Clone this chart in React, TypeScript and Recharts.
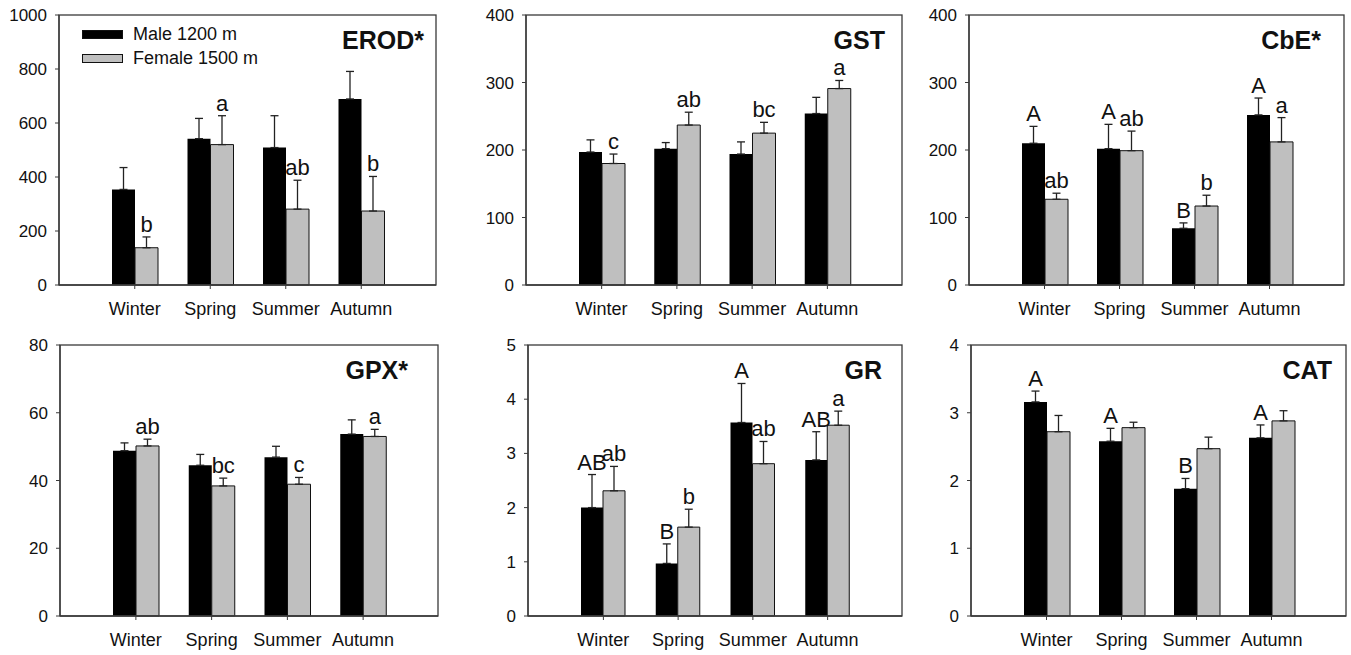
import { Bar, BarChart, ErrorBar, LabelList, Legend, XAxis, YAxis } from "recharts";

const seasons = ["Winter", "Spring", "Summer", "Autumn"];

// EROD*
const erodMale = [354, 542, 509, 689];
const erodMaleSe = [81, 75, 118, 102];
const erodFemale = [138, 520, 281, 274];
const erodFemaleSe = [40, 107, 107, 128];
const erodMaleLetters = ["", "", "", ""];
const erodFemaleLetters = ["b", "a", "ab", "b"];
const erodTicks = [0, 200, 400, 600, 800, 1000];

// GST
const gstMale = [197, 202, 194, 254];
const gstMaleSe = [18, 9, 18, 24];
const gstFemale = [180, 237, 225, 291];
const gstFemaleSe = [14, 19, 16, 12];
const gstMaleLetters = ["", "", "", ""];
const gstFemaleLetters = ["c", "ab", "bc", "a"];
const gstTicks = [0, 100, 200, 300, 400];

// CbE*
const cbeMale = [210, 202, 84, 252];
const cbeMaleSe = [25, 36, 8, 25];
const cbeFemale = [127, 199, 117, 212];
const cbeFemaleSe = [9, 29, 16, 36];
const cbeMaleLetters = ["A", "A", "B", "A"];
const cbeFemaleLetters = ["ab", "ab", "b", "a"];
const cbeTicks = [0, 100, 200, 300, 400];

// GPX*
const gpxMale = [48.8, 44.5, 46.9, 53.7];
const gpxMaleSe = [2.3, 3.2, 3.2, 4.2];
const gpxFemale = [50.2, 38.4, 38.9, 53.0];
const gpxFemaleSe = [2.0, 2.3, 2.0, 2.1];
const gpxMaleLetters = ["", "", "", ""];
const gpxFemaleLetters = ["ab", "bc", "c", "a"];
const gpxTicks = [0, 20, 40, 60, 80];

// GR
const grMale = [2.0, 0.97, 3.57, 2.88];
const grMaleSe = [0.61, 0.36, 0.72, 0.52];
const grFemale = [2.31, 1.64, 2.81, 3.52];
const grFemaleSe = [0.45, 0.33, 0.41, 0.26];
const grMaleLetters = ["AB", "B", "A", "AB"];
const grFemaleLetters = ["ab", "b", "ab", "a"];
const grTicks = [0, 1, 2, 3, 4, 5];

// CAT
const catMale = [3.16, 2.58, 1.88, 2.63];
const catMaleSe = [0.16, 0.19, 0.15, 0.19];
const catFemale = [2.72, 2.78, 2.47, 2.88];
const catFemaleSe = [0.24, 0.08, 0.17, 0.15];
const catMaleLetters = ["A", "A", "B", "A"];
const catFemaleLetters = ["", "", "", ""];
const catTicks = [0, 1, 2, 3, 4];

const MALE = "Male 1200 m";
const FEMALE = "Female 1500 m";
const AXIS = "#3a3a3a";
const INK = "#111";
const GREY = "#bfbfbf";
const Y_AXIS_W = 56;
const TOP_PAD = 12;
const X_AXIS_H = 35;
const RIGHT_PAD = 4;

type Panel = {
  title: string;
  titleRight: number;
  plot: { x: number; y: number; w: number; h: number };
  male: number[];
  maleSe: number[];
  female: number[];
  femaleSe: number[];
  maleLetters: string[];
  femaleLetters: string[];
  ticks: number[];
  legend?: boolean;
};

const panels: Panel[] = [
  { title: "EROD*", titleRight: 12, plot: { x: 59, y: 15, w: 377, h: 270 }, male: erodMale, maleSe: erodMaleSe, female: erodFemale, femaleSe: erodFemaleSe, maleLetters: erodMaleLetters, femaleLetters: erodFemaleLetters, ticks: erodTicks, legend: true },
  { title: "GST", titleRight: 17, plot: { x: 526, y: 15, w: 376, h: 270 }, male: gstMale, maleSe: gstMaleSe, female: gstFemale, femaleSe: gstFemaleSe, maleLetters: gstMaleLetters, femaleLetters: gstFemaleLetters, ticks: gstTicks },
  { title: "CbE*", titleRight: 23, plot: { x: 969, y: 15, w: 375, h: 270 }, male: cbeMale, maleSe: cbeMaleSe, female: cbeFemale, femaleSe: cbeFemaleSe, maleLetters: cbeMaleLetters, femaleLetters: cbeFemaleLetters, ticks: cbeTicks },
  { title: "GPX*", titleRight: 30, plot: { x: 60, y: 345, w: 378, h: 271 }, male: gpxMale, maleSe: gpxMaleSe, female: gpxFemale, femaleSe: gpxFemaleSe, maleLetters: gpxMaleLetters, femaleLetters: gpxFemaleLetters, ticks: gpxTicks },
  { title: "GR", titleRight: 20, plot: { x: 528, y: 345, w: 374, h: 271 }, male: grMale, maleSe: grMaleSe, female: grFemale, femaleSe: grFemaleSe, maleLetters: grMaleLetters, femaleLetters: grFemaleLetters, ticks: grTicks },
  { title: "CAT", titleRight: 14, plot: { x: 971, y: 345, w: 375, h: 271 }, male: catMale, maleSe: catMaleSe, female: catFemale, femaleSe: catFemaleSe, maleLetters: catMaleLetters, femaleLetters: catFemaleLetters, ticks: catTicks },
];

// letter sits just above the top of the error bar
function letterContent(means: number[], ses: number[], letters: string[]) {
  return (props: any) => {
    const i = props.index;
    const text = letters[i];
    if (!text) return null;
    const vb = props.viewBox ?? props;
    const x = Number(vb.x);
    const y = Number(vb.y);
    const w = Number(vb.width);
    const h = Math.abs(Number(vb.height));
    const top = y - (ses[i] * h) / means[i];
    return (
      <text x={x + w / 2} y={top - 5} textAnchor="middle" fontSize={22} fill={INK}>
        {text}
      </text>
    );
  };
}

const legendOrder = [MALE, FEMALE];

const LegendBox = ({ payload }: any) => {
  const items = [...(payload ?? [])].sort(
    (a: any, b: any) => legendOrder.indexOf(a.value) - legendOrder.indexOf(b.value)
  );
  return (
    <div>
      {items.map((entry: any) => (
        <div key={entry.value} style={{ display: "flex", alignItems: "center", height: 24 }}>
          <span
            style={{
              display: "inline-block",
              width: 41,
              height: 9,
              background: entry.color,
              border: `1px solid ${INK}`,
              boxSizing: "border-box",
              marginRight: 10,
            }}
          />
          <span style={{ fontSize: 18, color: INK }}>{entry.value}</span>
        </div>
      ))}
    </div>
  );
};

function PanelChart({ p }: { p: Panel }) {
  const data = seasons.map((season, i) => ({
    season,
    male: p.male[i],
    maleErr: [0, p.maleSe[i]],
    female: p.female[i],
    femaleErr: [0, p.femaleSe[i]],
  }));
  const width = Y_AXIS_W + p.plot.w + RIGHT_PAD;
  const height = TOP_PAD + p.plot.h + X_AXIS_H;
  const max = p.ticks[p.ticks.length - 1];

  return (
    <div style={{ position: "absolute", left: p.plot.x - Y_AXIS_W, top: p.plot.y - TOP_PAD, width, height }}>
      <BarChart
        width={width}
        height={height}
        data={data}
        margin={{ top: TOP_PAD, right: RIGHT_PAD, bottom: 0, left: 0 }}
        barCategoryGap={15}
        barGap={0}
      >
        <XAxis
          dataKey="season"
          height={X_AXIS_H}
          interval={0}
          padding={{ left: 38, right: 37 }}
          axisLine={{ stroke: AXIS, strokeWidth: 1.3 }}
          tickLine={{ stroke: AXIS }}
          tickSize={4}
          tickMargin={13}
          tick={{ fontSize: 18, fill: INK }}
        />
        <YAxis
          width={Y_AXIS_W}
          domain={[0, max]}
          ticks={p.ticks}
          interval={0}
          axisLine={{ stroke: AXIS, strokeWidth: 1.3 }}
          tickLine={{ stroke: AXIS }}
          tickSize={4}
          tickMargin={8}
          tick={{ fontSize: 17, fill: INK }}
        />
        {p.legend && (
          <Legend
            layout="vertical"
            align="center"
            verticalAlign="middle"
            content={<LegendBox />}
            wrapperStyle={{ top: 19, left: 79, width: 220, height: 48 }}
          />
        )}
        <Bar dataKey="male" name={MALE} fill="#000" isAnimationActive={false}>
          <ErrorBar dataKey="maleErr" direction="y" width={4} stroke="#222" strokeWidth={1.3} />
          <LabelList dataKey="male" content={letterContent(p.male, p.maleSe, p.maleLetters)} />
        </Bar>
        <Bar dataKey="female" name={FEMALE} fill={GREY} stroke={INK} strokeWidth={1} isAnimationActive={false}>
          <ErrorBar dataKey="femaleErr" direction="y" width={4} stroke="#222" strokeWidth={1.3} />
          <LabelList dataKey="female" content={letterContent(p.female, p.femaleSe, p.femaleLetters)} />
        </Bar>
      </BarChart>
      {/* box frame around the plot area and the panel title */}
      <svg
        width={p.plot.w}
        height={p.plot.h}
        style={{ position: "absolute", left: Y_AXIS_W, top: TOP_PAD, overflow: "visible", pointerEvents: "none" }}
      >
        <rect x={0} y={0} width={p.plot.w} height={p.plot.h} fill="none" stroke={AXIS} strokeWidth={1.3} />
        <text x={p.plot.w - p.titleRight} y={34} textAnchor="end" fontSize={25} fontWeight="bold" fill={INK}>
          {p.title}
        </text>
      </svg>
    </div>
  );
}

export default function App() {
  return (
    <div
      style={{
        position: "absolute",
        left: 0,
        top: 0,
        width: 1351,
        height: 655,
        overflow: "hidden",
        background: "#fff",
        fontFamily: '"Liberation Sans", Arial, sans-serif',
      }}
    >
      {panels.map((p) => (
        <PanelChart key={p.title} p={p} />
      ))}
    </div>
  );
}
